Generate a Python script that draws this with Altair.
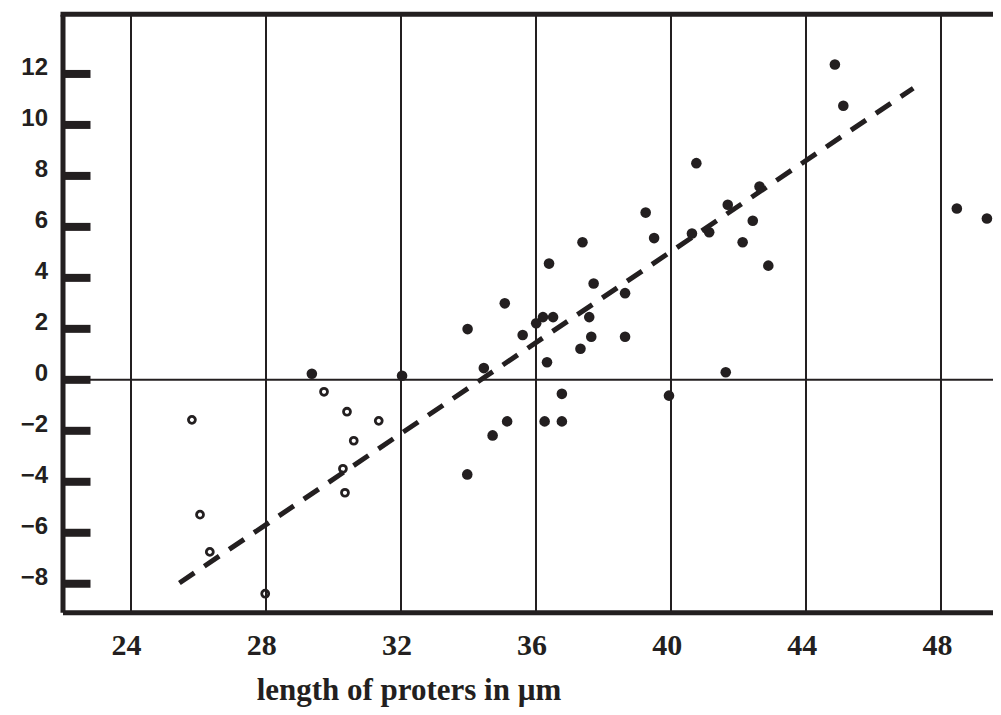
import altair as alt
import pandas as pd

# open circles
open_x = [25.83, 29.74, 30.42, 31.36, 30.62, 30.30, 30.36, 26.07, 26.36, 28.00]
open_y = [-1.57, -0.47, -1.25, -1.61, -2.39, -3.49, -4.43, -5.29, -6.75, -8.39]

# filled circles
fill_x = [29.38, 32.05, 33.99, 33.98, 34.47, 34.73, 35.09, 35.16, 35.62, 36.02,
          36.22, 36.52, 36.34, 36.27, 36.40, 36.78, 36.78, 37.33, 37.39, 37.59,
          37.65, 37.72, 38.65, 38.65, 39.26, 39.51, 39.95, 40.63, 40.76, 41.14,
          41.63, 41.69, 42.13, 42.43, 42.63, 42.89, 44.86, 45.11, 48.47, 49.36]
fill_y = [0.24, 0.16, 1.99, -3.71, 0.46, -2.18, 3.00, -1.63, 1.76, 2.22,
          2.46, 2.46, 0.69, -1.63, 4.56, -0.55, -1.63, 1.22, 5.40, 2.46,
          1.69, 3.78, 3.40, 1.69, 6.56, 5.56, -0.62, 5.74, 8.50, 5.79,
          0.30, 6.87, 5.40, 6.24, 7.58, 4.48, 12.37, 10.75, 6.72, 6.33]

# regression line end points
fit_x = [25.46, 47.18]
fit_y = [-7.97, 11.44]

x_ticks = [24, 28, 32, 36, 40, 44, 48]
y_ticks = [-8, -6, -4, -2, 0, 2, 4, 6, 8, 10, 12]

X_DOMAIN = [22, 49.54]
Y_DOMAIN = [-9.12, 14.34]
W = 930.5
H = 598
INK = "#231f20"

xs = alt.Scale(domain=X_DOMAIN, nice=False, zero=False)
ys = alt.Scale(domain=Y_DOMAIN, nice=False, zero=False)

df_open = pd.DataFrame({"x": open_x, "y": open_y})
df_fill = pd.DataFrame({"x": fill_x, "y": fill_y})
df_fit = pd.DataFrame({"x": fit_x, "y": fit_y})
df_ticks = pd.DataFrame({"y": y_ticks})
df_zero = pd.DataFrame({"y": [0]})
df_one = pd.DataFrame({"v": [0]})

x_axis = alt.Axis(
    values=x_ticks, title="length of proters in µm", grid=True, gridColor=INK,
    gridWidth=2, gridOpacity=1, ticks=False, tickSize=0, domainColor=INK, domainWidth=5,
    labelFont="Liberation Serif", labelFontWeight="bold", labelFontSize=30,
    labelColor=INK, labelPadding=18, labelOffset=-4,
    titleFont="Liberation Serif", titleFontWeight="bold", titleFontSize=31,
    titleColor=INK, titleX=346, titleY=87.5, titleAlign="center",
    titleBaseline="alphabetic", labelFlush=False,
)
y_axis = alt.Axis(
    values=y_ticks, title=None, grid=False, ticks=False, tickSize=0,
    domainColor=INK, domainWidth=5,
    labelFont="Liberation Sans", labelFontWeight="bold", labelFontSize=24,
    labelColor=INK, labelPadding=15, labelOffset=-6, labelAlign="right",
    labelBaseline="middle", labelFlush=False,
)

base_pts = alt.Chart(df_fill).mark_circle(size=112, color=INK, opacity=1).encode(
    x=alt.X("x:Q", scale=xs, axis=x_axis),
    y=alt.Y("y:Q", scale=ys, axis=y_axis),
)

open_pts = alt.Chart(df_open).mark_point(
    shape="circle", filled=False, size=48, strokeWidth=2.8, color=INK, opacity=1
).encode(x=alt.X("x:Q", scale=xs), y=alt.Y("y:Q", scale=ys))

fit = alt.Chart(df_fit).mark_line(
    color=INK, strokeWidth=5, strokeDash=[18, 12], strokeCap="butt"
).encode(x=alt.X("x:Q", scale=xs), y=alt.Y("y:Q", scale=ys))

ticks = alt.Chart(df_ticks).mark_rule(color=INK, strokeWidth=8, strokeCap="butt").encode(
    y=alt.Y("y:Q", scale=ys), x=alt.value(0), x2=alt.value(28)
)

zero = alt.Chart(df_zero).mark_rule(color=INK, strokeWidth=2).encode(
    y=alt.Y("y:Q", scale=ys), x=alt.value(0), x2=alt.value(W)
)

top = alt.Chart(df_one).mark_rule(color=INK, strokeWidth=5).encode(
    y=alt.value(0), x=alt.value(-2), x2=alt.value(W)
)

chart = alt.layer(base_pts, zero, top, ticks, fit, open_pts).properties(
    width=W, height=H,
    autosize=alt.AutoSizeParams(type="none"),
    padding={"left": 54.5, "top": 6.3, "right": 0, "bottom": 94.5},
).configure_view(stroke=None).configure(background="white")

chart.save("out.html", embed_options={"renderer": "svg", "actions": False})
